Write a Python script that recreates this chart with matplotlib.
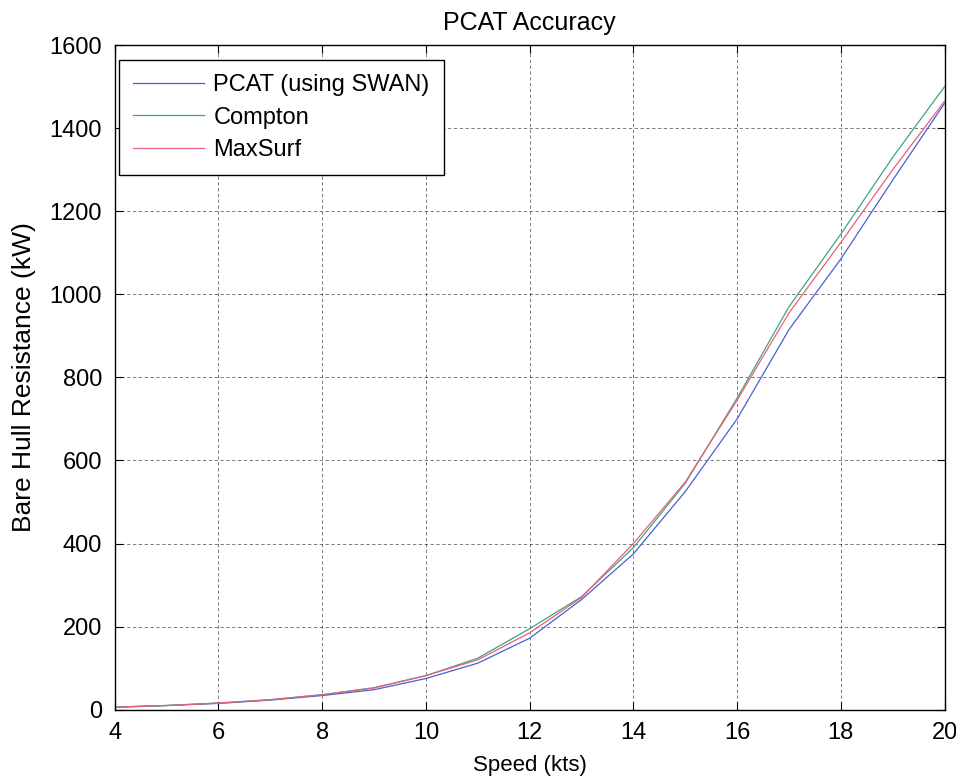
import matplotlib.pyplot as plt
import numpy as np

plt.rcParams['font.family'] = ['Liberation Sans', 'DejaVu Sans']

speed = np.arange(4, 21)
pcat = [6, 10, 15, 23, 34, 48, 75, 112, 172, 265, 375, 525, 700, 915, 1085, 1275, 1460]
compton = [6, 10, 16, 24, 36, 53, 82, 124, 195, 272, 390, 545, 750, 970, 1145, 1330, 1500]
maxsurf = [6, 10, 16, 24, 36, 52, 82, 120, 185, 270, 400, 548, 745, 955, 1125, 1300, 1465]

fig = plt.figure(figsize=(9.56, 7.79), dpi=100)
ax = fig.add_axes([0.120, 0.089, 0.868, 0.853])

ax.plot(speed, pcat, color='#4a5fd6', lw=0.9, label='PCAT (using SWAN)')
ax.plot(speed, compton, color='#3fa57a', lw=0.9, label='Compton')
ax.plot(speed, maxsurf, color='#e8607a', lw=0.9, label='MaxSurf')

ax.set_xlim(4, 20)
ax.set_ylim(0, 1600)
ax.set_xticks(np.arange(4, 21, 2))
ax.set_yticks(np.arange(0, 1601, 200))
ax.grid(True, color='black', linestyle=(0, (4, 3)), linewidth=0.6, alpha=0.6)
ax.tick_params(direction='in', top=True, right=True, labelsize=17, length=6, pad=9)
for s in ax.spines.values():
    s.set_linewidth(1.0)

ax.set_title('PCAT Accuracy', fontsize=18, pad=11)
ax.set_xlabel('Speed (kts)', fontsize=16, labelpad=8)
ax.set_ylabel('Bare Hull Resistance (kW)', fontsize=19, labelpad=10)

leg = ax.legend(loc='upper left', bbox_to_anchor=(0.005, 0.978), fontsize=17,
                handlelength=3.0, handletextpad=0.4, fancybox=False, framealpha=1,
                borderaxespad=0, borderpad=0.6, labelspacing=0.45)
leg.get_frame().set_edgecolor('black')
leg.get_frame().set_linewidth(1.0)

fig.savefig('out.png', dpi=100)
